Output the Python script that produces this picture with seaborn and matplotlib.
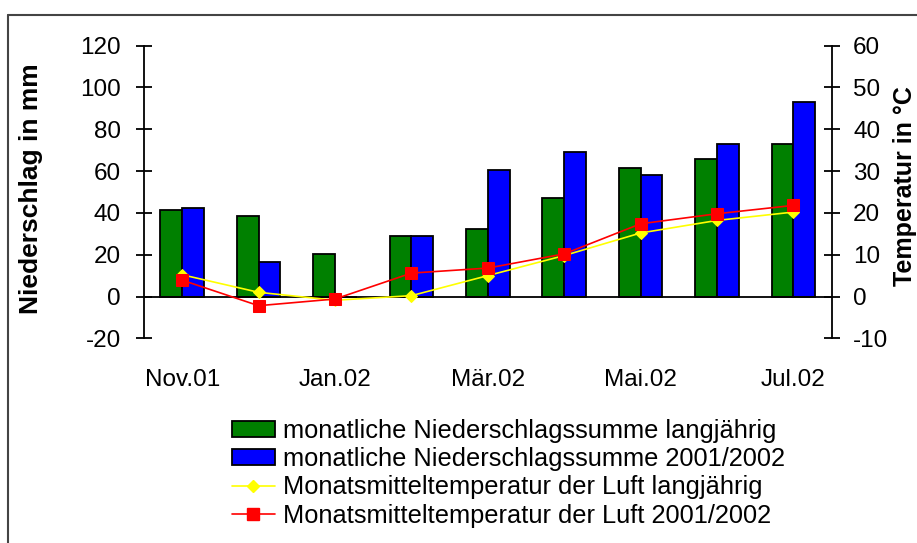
import matplotlib
matplotlib.use("Agg")
import matplotlib.pyplot as plt
from matplotlib.lines import Line2D
from matplotlib.patches import Patch
from matplotlib.ticker import FixedLocator
import numpy as np
import pandas as pd
import seaborn as sns

# Monate Nov 2001 - Jul 2002
monate = ["Nov.01", "Dez.01", "Jan.02", "Feb.02", "Mär.02", "Apr.02", "Mai.02", "Jun.02", "Jul.02"]
monat_labels = ["Nov.01", "Jan.02", "Mär.02", "Mai.02", "Jul.02"]

# Niederschlag in mm
ns_langjaehrig = [41.5, 38.5, 20.3, 29.0, 32.3, 47.0, 61.3, 66.0, 73.0]
ns_2001_2002 = [42.3, 16.5, 0.0, 29.0, 60.3, 69.0, 58.0, 73.0, 93.3]

# Temperatur in °C
temp_langjaehrig = [5.2, 1.0, -0.9, 0.2, 5.0, 9.8, 15.2, 18.2, 20.2]
temp_2001_2002 = [3.9, -2.2, -0.6, 5.6, 6.8, 10.2, 17.4, 19.8, 21.8]

serien = ["monatliche Niederschlagssumme langjährig",
          "monatliche Niederschlagssumme 2001/2002",
          "Monatsmitteltemperatur der Luft langjährig",
          "Monatsmitteltemperatur der Luft 2001/2002"]

GRUEN = "#008000"
BLAU = "#0000FF"
GELB = "#FFFF00"
ROT = "#FF0000"

sns.set_style("white")
plt.rcParams["font.family"] = ["Liberation Sans", "DejaVu Sans"]
plt.rcParams["axes.unicode_minus"] = False
plt.rcParams["text.color"] = "black"
plt.rcParams["axes.labelcolor"] = "black"
plt.rcParams["xtick.color"] = "black"
plt.rcParams["ytick.color"] = "black"

df = pd.DataFrame({
    "Monat": monate * 2,
    "mm": ns_langjaehrig + ns_2001_2002,
    "Reihe": [serien[0]] * len(monate) + [serien[1]] * len(monate),
})

fig = plt.figure(figsize=(9.17, 5.43), dpi=100)
ax = fig.add_axes([144 / 917, 1 - 338.3 / 543, 687.7 / 917, 292.6 / 543])

sns.barplot(data=df, x="Monat", y="mm", hue="Reihe", order=monate,
            palette=[GRUEN, BLAU], saturation=1, width=0.57, edgecolor="black",
            linewidth=1.3, errorbar=None, legend=False, ax=ax)

ax2 = ax.twinx()
x_pos = np.arange(len(monate))
sns.lineplot(x=x_pos, y=temp_langjaehrig, color=GELB, marker="D",
             markersize=6.5, markeredgecolor=GELB, linewidth=1.2, ax=ax2)
sns.lineplot(x=x_pos, y=temp_2001_2002, color=ROT, marker="s",
             markersize=8, markeredgecolor=ROT, linewidth=1.2, ax=ax2)

ax.set_xlim(-0.5, len(monate) - 0.5)
ax.set_ylim(-20, 120)
ax2.set_ylim(-10, 60)
ax.set_yticks(range(-20, 121, 20))
ax2.set_yticks(range(-10, 61, 10))

# x-Achse auf Nulllinie, Striche zwischen den Monaten
ax.spines["bottom"].set_position(("data", 0))
ax.xaxis.set_major_locator(FixedLocator(np.arange(0.5, len(monate) - 1, 1.0)))
ax.xaxis.set_minor_locator(FixedLocator([0, 2, 4, 6, 8]))
ax.set_xticklabels([], minor=False)
ax.set_xticklabels(monat_labels, minor=True)
ax.tick_params(axis="x", which="major", direction="inout", length=11, width=1.3)
ax.tick_params(axis="x", which="minor", length=0, pad=52, labelsize=17.5)
ax.set_xlabel("")

ax.tick_params(axis="y", direction="inout", length=11, width=1.3,
               labelsize=17.5, pad=11, left=True)
ax2.tick_params(axis="y", direction="inout", length=11, width=1.3,
                labelsize=17.5, pad=10, right=True)

for name in ["top", "right"]:
    ax.spines[name].set_visible(False)
for name in ["top", "bottom", "left"]:
    ax2.spines[name].set_visible(False)
for sp in [ax.spines["left"], ax.spines["bottom"], ax2.spines["right"]]:
    sp.set_linewidth(1.3)
    sp.set_color("black")

ax.set_ylabel("Niederschlag in mm", fontsize=19, fontweight="bold")
ax2.set_ylabel("Temperatur in °C", fontsize=18, fontweight="bold")
ax.yaxis.set_label_coords((43 - 144) / 687.7, 0.51)
ax2.yaxis.set_label_coords((893 - 144) / 687.7, 0.52)

handles = [
    Patch(facecolor=GRUEN, edgecolor="black", linewidth=1.3),
    Patch(facecolor=BLAU, edgecolor="black", linewidth=1.3),
    Line2D([], [], color=GELB, marker="D", markersize=6.5, linewidth=1.2),
    Line2D([], [], color=ROT, marker="s", markersize=8, linewidth=1.2),
]
fig.legend(handles, serien, loc="upper left",
           bbox_to_anchor=(214 / 917, 1 - 401 / 543), frameon=False,
           fontsize=18.3, handlelength=1.7, handleheight=0.6,
           handletextpad=0.3, labelspacing=0.17, borderpad=0.2)

# Rahmen (oben und links sichtbar)
fig.add_artist(Line2D([8 / 917, 1.0], [1 - 15 / 543, 1 - 15 / 543],
                      color="#444444", linewidth=1.5, transform=fig.transFigure))
fig.add_artist(Line2D([8 / 917, 8 / 917], [1 - 15 / 543, 0.0],
                      color="#444444", linewidth=1.5, transform=fig.transFigure))

fig.savefig("out.png", dpi=100)
